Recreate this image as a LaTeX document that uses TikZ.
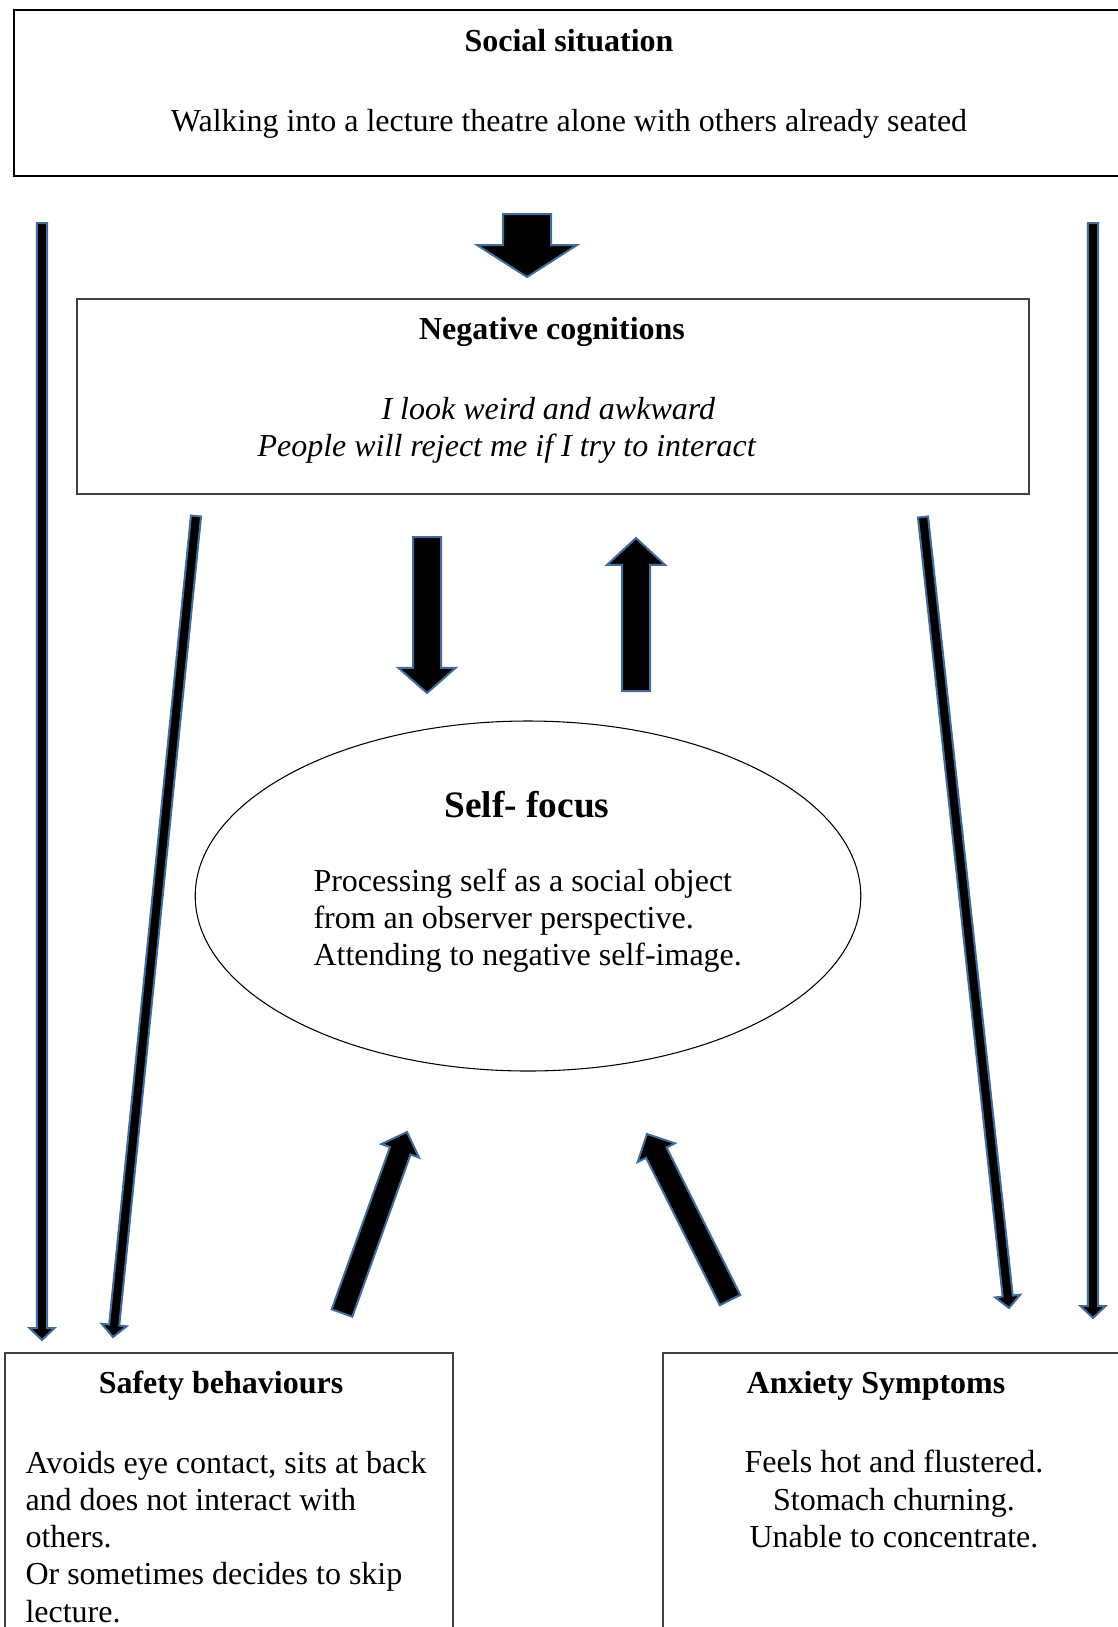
\documentclass[tikz,border=0pt]{standalone}
\usepackage{fontspec}
\setmainfont{Liberation Serif}
\AtBeginDocument{\fontsize{12pt}{13.9pt}\selectfont}
\definecolor{arrowblue}{RGB}{65,108,155}
\definecolor{boxgray}{RGB}{64,64,64}
\usetikzlibrary{calc,shapes.geometric}
\tikzset{
  blockarrow/.style={draw=arrowblue,fill=black,line width=0.75pt,line join=miter},
  panel/.style={draw=boxgray,line width=0.6pt,inner sep=0pt,outer sep=0pt,anchor=north west},
  heading/.style={font=\bfseries,inner sep=0pt},
  body/.style={inner sep=0pt}
}
% tail, tip, half shaft, half head, head length
\newcommand{\blockarrow}[5]{%
  \coordinate (neck) at ($(#2)!#5!(#1)$);
  \draw[blockarrow] ($(#1)!#3!90:(#2)$) -- ($(neck)!#3!90:(#2)$) -- ($(neck)!#4!90:(#2)$) -- (#2)
    -- ($(neck)!#4!-90:(#2)$) -- ($(neck)!#3!-90:(#2)$) -- ($(#1)!#3!-90:(#2)$) -- cycle;
}

\begin{document}
\begin{tikzpicture}[x=0.375pt,y=-0.375pt]
  \useasboundingbox (0,0) rectangle (1118,1627);

  % boxes
  \node[panel,draw=black,line width=0.8pt,minimum width=418.5pt,minimum height=62.25pt] (situation) at (14,10) {};
  \node[heading] (situation-title) at (569,41) {Social situation};
  \node[body] (situation-text) at (569,124) {Walking into a lecture theatre alone with others already seated};

  \node[panel,minimum width=357pt,minimum height=73.1pt] (cognitions) at (77,299) {};
  \node[heading] (cognitions-title) at (552,332) {Negative cognitions};
  \node[body,anchor=west,align=left,font=\itshape] (cognitions-text) at (257,430)
    {\hspace*{46.5pt}I look weird and awkward\\People will reject me if I try to interact};

  \node[ellipse,draw,minimum width=249.6pt,minimum height=131.25pt,inner sep=0pt] (selffocus) at (528,896) {};
  \node[heading,font=\fontsize{14pt}{16pt}\selectfont\bfseries] (selffocus-title) at (527,805) {Self- focus};
  \node[body,anchor=west,align=left] (selffocus-text) at (313,921)
    {Processing self as a social object\\from an observer perspective.\\Attending to negative self-image.};

  \node[panel,minimum width=168pt,minimum height=112.5pt] (safety) at (5,1353) {};
  \node[heading] (safety-title) at (221,1386) {Safety behaviours};
  \node[body,anchor=west,align=left] (safety-text) at (25,1537)
    {Avoids eye contact, sits at back\\and does not interact with\\others.\\Or sometimes decides to skip\\lecture.};

  \node[panel,minimum width=175pt,minimum height=112.5pt] (anxiety) at (663,1353) {};
  \node[heading] (anxiety-title) at (876,1386) {Anxiety Symptoms};
  \node[body,align=center] (anxiety-text) at (894,1499)
    {Feels hot and flustered.\\Stomach churning.\\Unable to concentrate.};

  % arrow ends
  \coordinate (sit-tail) at (527,214);   \coordinate (sit-tip) at (527,277);
  \coordinate (down-tail) at (427,537);  \coordinate (down-tip) at (427,693);
  \coordinate (up-tail) at (636,691);    \coordinate (up-tip) at (636,538);
  \coordinate (outl-tail) at (42,223);   \coordinate (outl-tip) at (42,1340);
  \coordinate (outr-tail) at (1093,223); \coordinate (outr-tip) at (1093,1318);
  \coordinate (inl-tail) at (196,516);   \coordinate (inl-tip) at (113,1337);
  \coordinate (inr-tail) at (923,517);   \coordinate (inr-tip) at (1009,1308);
  \coordinate (safe-tail) at (342,1313); \coordinate (safe-tip) at (407,1132);
  \coordinate (anx-tail) at (730,1300);  \coordinate (anx-tip) at (647,1134);

  % block arrows
  \blockarrow{sit-tail}{sit-tip}{9pt}{18.75pt}{12pt}
  \blockarrow{down-tail}{down-tip}{5.25pt}{10.7pt}{9.4pt}
  \blockarrow{up-tail}{up-tip}{5.25pt}{10.9pt}{10.1pt}
  \blockarrow{outl-tail}{outl-tip}{1.9pt}{4.7pt}{4.5pt}
  \blockarrow{outr-tail}{outr-tip}{1.9pt}{4.7pt}{4.5pt}
  \blockarrow{inl-tail}{inl-tip}{1.9pt}{4.7pt}{4.5pt}
  \blockarrow{inr-tail}{inr-tip}{1.9pt}{4.7pt}{4.5pt}
  \blockarrow{safe-tail}{safe-tip}{4.1pt}{7.5pt}{7.5pt}
  \blockarrow{anx-tail}{anx-tip}{4.3pt}{7.8pt}{7.8pt}
\end{tikzpicture}
\end{document}
